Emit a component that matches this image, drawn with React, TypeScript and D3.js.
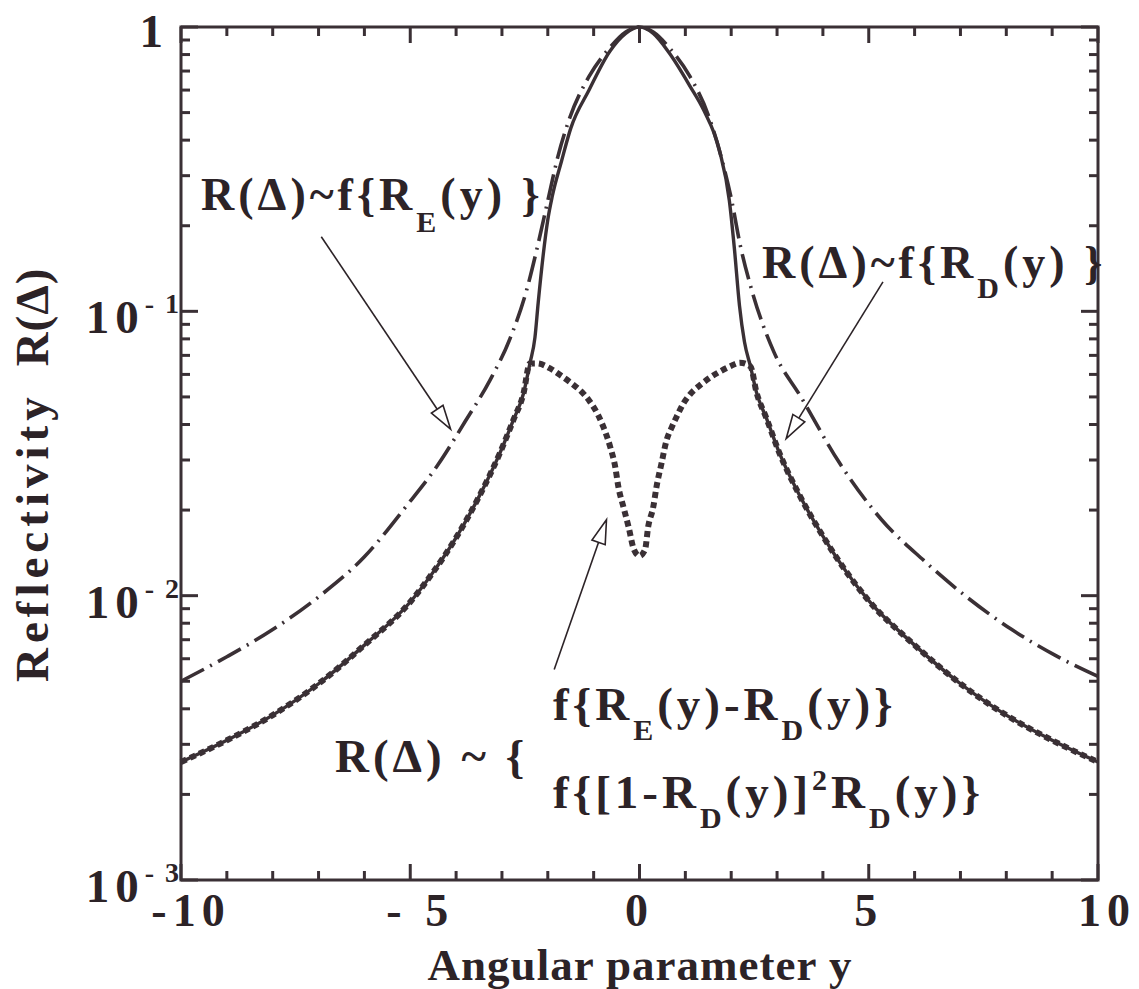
import React from "react";
import * as d3 from "d3";

// Angular parameter y and reflectivity values for the three curves.
// Solid curve: R(Δ) ~ f{R_D(y)}
const solidY = [-10, -9, -8, -7, -6, -5, -4.5, -4, -3.5, -3.05, -2.75, -2.53, -2.39, -2.28, -2.21, -2.1, -2.0, -1.9, -1.7, -1.5, -1.1, -0.65, -0.3, 0, 0.3, 0.65, 1.1, 1.4, 1.74, 1.96, 2.07, 2.18, 2.29, 2.42, 2.55, 2.77, 3.05, 3.5, 4, 4.5, 5, 6, 7, 8, 9, 10];
const solidR = [0.0026, 0.0031, 0.0038, 0.0049, 0.0067, 0.0095, 0.0121, 0.0160, 0.0223, 0.0316, 0.0415, 0.0514, 0.0656, 0.081, 0.107, 0.158, 0.21, 0.255, 0.338, 0.44, 0.60, 0.82, 0.95, 1.0, 0.95, 0.81, 0.62, 0.51, 0.37, 0.245, 0.166, 0.105, 0.078, 0.064, 0.052, 0.042, 0.0318, 0.0224, 0.0162, 0.0122, 0.0096, 0.0067, 0.0049, 0.0038, 0.0031, 0.0026];

// Dash-dot curve: R(Δ) ~ f{R_E(y)}
const edgeY = [-10, -9, -8, -7, -6, -5.07, -4.4, -3.81, -3.26, -2.82, -2.46, -2.24, -2.0, -1.78, -1.52, -1.1, -0.65, -0.3, 0, 0.3, 0.65, 1.1, 1.5, 1.78, 2.0, 2.2, 2.46, 2.93, 3.52, 4.35, 5.28, 6.2, 7.17, 8.12, 9.04, 10];
const edgeR = [0.0050, 0.0061, 0.0076, 0.0099, 0.0137, 0.0208, 0.0288, 0.0408, 0.0573, 0.0805, 0.119, 0.165, 0.245, 0.35, 0.48, 0.67, 0.845, 0.96, 1.0, 0.96, 0.845, 0.67, 0.49, 0.35, 0.25, 0.17, 0.117, 0.072, 0.050, 0.0295, 0.0185, 0.0133, 0.0098, 0.0076, 0.0062, 0.0052];

// Square-dotted curve: R(Δ) ~ f{R_E(y)-R_D(y)}, f{[1-R_D(y)]²R_D(y)}
const dipY = [-10, -9, -8, -7, -6, -5, -4.5, -4, -3.5, -3.05, -2.75, -2.53, -2.39, -2.24, -1.95, -1.73, -1.48, -1.26, -1.08, -0.9, -0.79, -0.64, -0.53, -0.46, -0.35, -0.24, -0.12, 0, 0.12, 0.19, 0.3, 0.37, 0.48, 0.59, 0.7, 0.81, 0.96, 1.1, 1.32, 1.54, 1.76, 1.97, 2.19, 2.42, 2.55, 2.77, 3.05, 3.5, 4, 4.5, 5, 6, 7, 8, 9, 10];
const dipR = [0.0026, 0.0031, 0.0038, 0.0049, 0.0067, 0.0095, 0.0121, 0.0160, 0.0223, 0.0316, 0.0415, 0.0514, 0.0656, 0.0656, 0.063, 0.0597, 0.0558, 0.0521, 0.0481, 0.0431, 0.0393, 0.0334, 0.0284, 0.0241, 0.0205, 0.0175, 0.0145, 0.0138, 0.0145, 0.0175, 0.0205, 0.0241, 0.0292, 0.0352, 0.039, 0.0426, 0.0475, 0.051, 0.055, 0.0585, 0.0615, 0.064, 0.066, 0.064, 0.052, 0.042, 0.0318, 0.0224, 0.0162, 0.0122, 0.0096, 0.0067, 0.0049, 0.0038, 0.0031, 0.0026];

// Axis ticks and labels
const xMajor = [-10, -5, 0, 5, 10];
const xLabels = ["-10", "- 5", "0", "5", "10"];
const yDecades = [1, 0.1, 0.01, 0.001];
const yExponents = ["", "- 1", "- 2", "- 3"];

// Annotation arrows: [tail y, tail R, tip y, tip R]
const arrowE = [-6.94, 0.183, -4.12, 0.0385];
const arrowD = [5.31, 0.127, 3.2, 0.0357];
const arrowDip = [-1.86, 0.0055, -0.72, 0.0185];

const INK = "#3a3035";
const TEXT = "#2c2327";
const FONT = "'Liberation Serif', 'Times New Roman', serif";

export default function App() {
  const left = 181, right = 1098, top = 27, bottom = 880;
  const x = d3.scaleLinear().domain([-10, 10]).range([left, right]);
  const y = d3.scaleLog().domain([0.001, 1]).range([bottom, top]);

  const line = d3
    .line<[number, number]>()
    .x((d) => x(d[0]))
    .y((d) => y(d[1]))
    .curve(d3.curveMonotoneX);

  const solid = line(solidY.map((v, i) => [v, solidR[i]]))!;
  const edge = line(edgeY.map((v, i) => [v, edgeR[i]]))!;
  const dip = line(dipY.map((v, i) => [v, dipR[i]]))!;

  const xMinor = x.ticks(20);
  const yMinor = y.ticks();

  const arrow = (a: number[], key: string) => {
    const x1 = x(a[0]), y1 = y(a[1]), x2 = x(a[2]), y2 = y(a[3]);
    const dx = x2 - x1, dy = y2 - y1;
    const len = Math.hypot(dx, dy);
    const ux = dx / len, uy = dy / len;
    const hl = 24, hw = 7;
    const bx = x2 - ux * hl, by = y2 - uy * hl;
    const p1 = [bx - uy * hw, by + ux * hw];
    const p2 = [bx + uy * hw, by - ux * hw];
    return (
      <g key={key}>
        <line x1={x1} y1={y1} x2={bx} y2={by} stroke={TEXT} strokeWidth={1.6} />
        <polygon
          points={`${x2},${y2} ${p1[0]},${p1[1]} ${p2[0]},${p2[1]}`}
          fill="#fff"
          stroke={TEXT}
          strokeWidth={1.6}
          strokeLinejoin="miter"
        />
      </g>
    );
  };

  return (
    <svg
      width={1139}
      height={989}
      style={{ position: "absolute", left: 0, top: 0, background: "#fff" }}
      fontFamily={FONT}
      fontWeight="bold"
    >
      <rect x={0} y={0} width={1139} height={989} fill="#fff" />

      {/* curves */}
      <path d={edge} fill="none" stroke={INK} strokeWidth={3.6} strokeDasharray="26,7,2,7" />
      <path d={solid} fill="none" stroke={INK} strokeWidth={3.4} />
      <path d={dip} fill="none" stroke={INK} strokeWidth={6} strokeDasharray="6,4" />

      {/* frame */}
      <rect x={left} y={top} width={right - left} height={bottom - top} fill="none" stroke={INK} strokeWidth={3} />

      {/* x ticks, bottom and top */}
      {xMinor.map((v) => {
        const L = xMajor.includes(v) ? 16 : 9;
        return (
          <g key={"xt" + v}>
            <line x1={x(v)} x2={x(v)} y1={bottom} y2={bottom - L} stroke={INK} strokeWidth={3} />
            <line x1={x(v)} x2={x(v)} y1={top} y2={top + L} stroke={INK} strokeWidth={3} />
          </g>
        );
      })}

      {/* y ticks, left and right */}
      {yMinor.map((v, i) => {
        const L = yDecades.some((d) => Math.abs(d - v) < d * 1e-6) ? 17 : 9;
        return (
          <g key={"yt" + i}>
            <line x1={left} x2={left + L} y1={y(v)} y2={y(v)} stroke={INK} strokeWidth={3} />
            <line x1={right} x2={right - L} y1={y(v)} y2={y(v)} stroke={INK} strokeWidth={3} />
          </g>
        );
      })}

      {/* x tick labels */}
      {xMajor.map((v, i) => (
        <text
          key={"xl" + v}
          x={x(v) + (v < 0 ? 10 : v === 10 ? 9 : 0)}
          y={926}
          textAnchor="middle"
          fontSize={46}
          letterSpacing={6}
          fill={TEXT}
        >
          {xLabels[i]}
        </text>
      ))}

      {/* y tick labels */}
      {yDecades.map((v, i) =>
        i === 0 ? (
          <text key="yl0" x={163} y={y(v) + 20} textAnchor="end" fontSize={47} fill={TEXT}>
            1
          </text>
        ) : (
          <text key={"yl" + i} x={181} y={y(v) + 22} textAnchor="end" fontSize={47} fill={TEXT} letterSpacing={6}>
            10
            <tspan dy={-20} fontSize={28} letterSpacing={2}>
              {yExponents[i]}
            </tspan>
          </text>
        )
      )}

      {/* axis titles */}
      <text x={640} y={980} textAnchor="middle" fontSize={45} letterSpacing={1} fill={TEXT}>
        Angular parameter y
      </text>
      <text transform="translate(48,682) rotate(-90)" fontSize={47} fill={TEXT}>
        <tspan letterSpacing={5}>Reflectivity</tspan>
        <tspan dx={26} letterSpacing={1}>R(Δ)</tspan>
      </text>

      {/* annotations */}
      <text x={201} y={210} fontSize={46} fill={TEXT} letterSpacing={4}>
        R(Δ)~f{"{"}R<tspan dy={22} fontSize={30}>E</tspan>
        <tspan dy={-22}>(y) {"}"}</tspan>
      </text>
      <text x={762} y={278} fontSize={46} fill={TEXT} letterSpacing={4}>
        R(Δ)~f{"{"}R<tspan dy={20} fontSize={30}>D</tspan>
        <tspan dy={-20}>(y) {"}"}</tspan>
      </text>

      <text x={335} y={772} fontSize={47} fill={TEXT} letterSpacing={4}>
        R(Δ) ~ {"{"}
      </text>
      <text x={553} y={720} fontSize={47} fill={TEXT} letterSpacing={4}>
        f{"{"}R<tspan dy={20} fontSize={30}>E</tspan>
        <tspan dy={-20}>(y)-R</tspan>
        <tspan dy={20} fontSize={30}>D</tspan>
        <tspan dy={-20}>(y){"}"}</tspan>
      </text>
      <text x={553} y={808} fontSize={47} fill={TEXT} letterSpacing={4}>
        f{"{"}[1-R<tspan dy={20} fontSize={30}>D</tspan>
        <tspan dy={-20}>(y)]</tspan>
        <tspan dy={-18} fontSize={30}>2</tspan>
        <tspan dy={18}>R</tspan>
        <tspan dy={20} fontSize={30}>D</tspan>
        <tspan dy={-20}>(y){"}"}</tspan>
      </text>

      {arrow(arrowE, "aE")}
      {arrow(arrowD, "aD")}
      {arrow(arrowDip, "aDip")}
    </svg>
  );
}
